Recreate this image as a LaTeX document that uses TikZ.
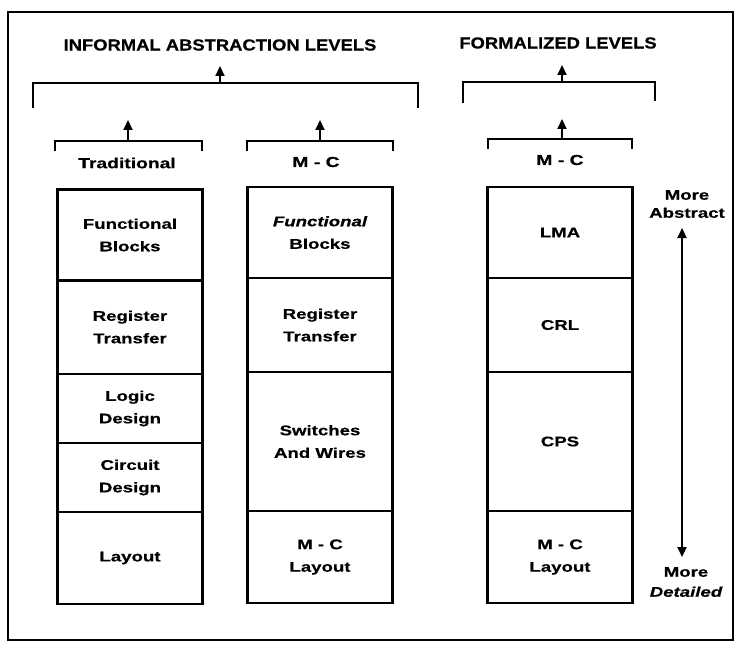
\documentclass[tikz,border=0pt]{standalone}
\usepackage{fontspec}
\newfontfamily\hv[FakeStretch=1.33,BoldFeatures={FakeBold=0.5},BoldItalicFeatures={FakeBold=0.5}]{Liberation Sans}
\newfontfamily\hvt[FakeStretch=1.15,BoldFeatures={FakeBold=0.5}]{Liberation Sans}
\usetikzlibrary{arrows.meta}
\begin{document}
\begin{tikzpicture}[x=1pt,y=-1pt,
  cell/.style={draw, line width=2.6pt, minimum width=145pt, inner sep=0pt, align=center,
    font=\hv\bfseries\fontsize{14}{22.5}\selectfont},
  lab/.style={inner sep=0pt, font=\hv\bfseries\fontsize{14.5}{16}\selectfont},
  ttl/.style={inner sep=0pt, font=\hvt\bfseries\fontsize{16}{18}\selectfont},
  brk/.style={line width=2.6pt},
  up/.style={line width=2.2pt, -{Triangle[width=9pt,length=10pt]}},
  both/.style={line width=2.2pt, {Triangle[width=9pt,length=10pt]}-{Triangle[width=9pt,length=10pt]}}
]
\useasboundingbox (0,0) rectangle (739,650);
\draw[line width=2pt] (8,12) rectangle (733,640);

% titles
\node[ttl] (ti) at (220,45) {INFORMAL ABSTRACTION LEVELS};
\node[ttl] (tf) at (558,43) {FORMALIZED LEVELS};

% big brackets
\coordinate (B1a) at (33,108); \coordinate (B1b) at (33,83);
\coordinate (B1c) at (418,83); \coordinate (B1d) at (418,108);
\coordinate (B1m) at (220,83); \coordinate (B1t) at (220,66);
\draw[brk] (B1a) -- (B1b) -- (B1c) -- (B1d);
\draw[up] (B1m) -- (B1t);

\coordinate (B2a) at (463,103); \coordinate (B2b) at (463,82);
\coordinate (B2c) at (655,82); \coordinate (B2d) at (655,101);
\coordinate (B2m) at (562,82); \coordinate (B2t) at (562,65);
\draw[brk] (B2a) -- (B2b) -- (B2c) -- (B2d);
\draw[up] (B2m) -- (B2t);

% small brackets
\coordinate (s1a) at (55,151); \coordinate (s1b) at (55,141);
\coordinate (s1c) at (202,141); \coordinate (s1d) at (202,151);
\coordinate (s1m) at (128,141); \coordinate (s1t) at (128,120);
\draw[brk] (s1a) -- (s1b) -- (s1c) -- (s1d);
\draw[up] (s1m) -- (s1t);

\coordinate (s2a) at (247,151); \coordinate (s2b) at (247,141);
\coordinate (s2c) at (393,141); \coordinate (s2d) at (393,151);
\coordinate (s2m) at (320,141); \coordinate (s2t) at (320,120);
\draw[brk] (s2a) -- (s2b) -- (s2c) -- (s2d);
\draw[up] (s2m) -- (s2t);

\coordinate (s3a) at (488,149); \coordinate (s3b) at (488,139);
\coordinate (s3c) at (632,139); \coordinate (s3d) at (632,149);
\coordinate (s3m) at (562,139); \coordinate (s3t) at (562,119);
\draw[brk] (s3a) -- (s3b) -- (s3c) -- (s3d);
\draw[up] (s3m) -- (s3t);

% labels
\node[lab] (lt) at (127,163) {Traditional};
\node[lab] (lm) at (316,162) {M - C};
\node[lab] (lf) at (560,160) {M - C};

% column 1
\node[cell, minimum height=91pt] (t1) at (130,235) {Functional\\Blocks};
\node[cell, minimum height=94pt] (t2) at (130,327) {Register\\Transfer};
\node[cell, minimum height=69pt] (t3) at (130,408.5) {Logic\\Design};
\node[cell, minimum height=69pt] (t4) at (130,477.5) {Circuit\\Design};
\node[cell, minimum height=92pt] (t5) at (130,558) {Layout};

% column 2
\node[cell, minimum height=91pt] (m1) at (320,232.5) {\itshape Functional\\Blocks};
\node[cell, minimum height=94pt] (m2) at (320,325) {Register\\Transfer};
\node[cell, minimum height=139pt] (m3) at (320,441.5) {Switches\\And Wires};
\node[cell, minimum height=92pt] (m4) at (320,557) {M - C\\Layout};

% column 3
\node[cell, minimum height=91pt] (f1) at (560,232.5) {LMA};
\node[cell, minimum height=94pt] (f2) at (560,325) {CRL};
\node[cell, minimum height=139pt] (f3) at (560,441.5) {CPS};
\node[cell, minimum height=92pt] (f4) at (560,557) {M - C\\Layout};

% abstraction arrow
\node[lab, align=center, font=\hv\bfseries\fontsize{14}{18}\selectfont] (ma) at (687,204) {More\\Abstract};
\node[lab, align=center, font=\hv\bfseries\fontsize{14}{20}\selectfont] (md) at (686,582) {More\\\itshape Detailed};
\coordinate (at) at (682,228);
\coordinate (ab) at (682,557);
\draw[both] (at) -- (ab);
\end{tikzpicture}
\end{document}
